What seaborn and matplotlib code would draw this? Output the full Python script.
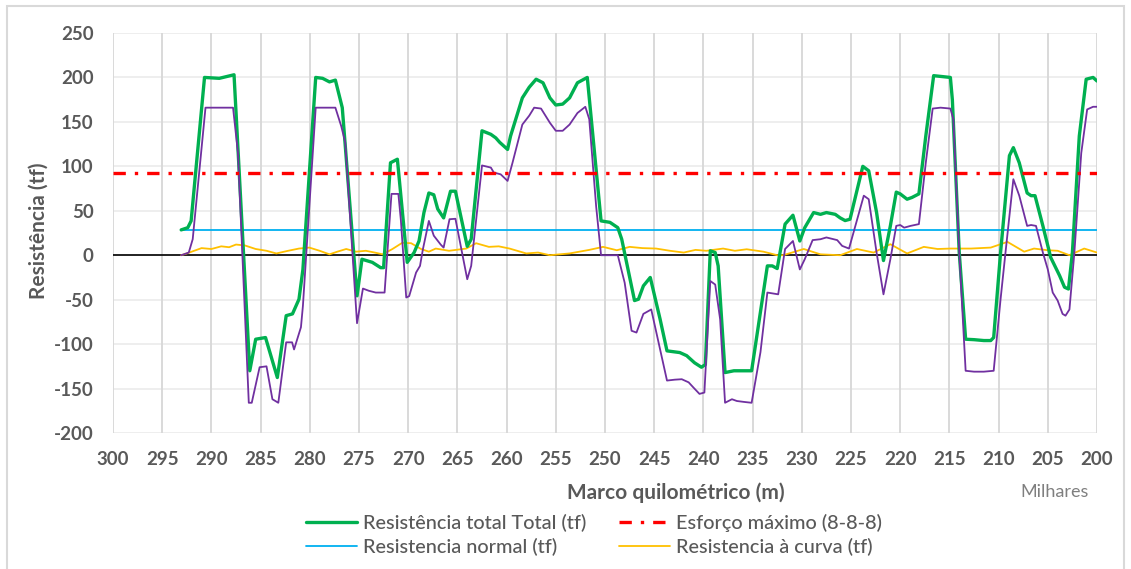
import numpy as np
import pandas as pd
import matplotlib
matplotlib.use("Agg")
import matplotlib.pyplot as plt
import seaborn as sns
from matplotlib.patches import Rectangle
from matplotlib.lines import Line2D

# ---------------- data (km in thousands of metres) ----------------
km_total = [293.07, 292.4, 292.06, 290.7, 289.2, 287.7, 286.1, 285.5, 284.5, 283.3,
            282.4, 281.76, 281.1, 280.7, 279.4, 278.7, 278.0, 277.4, 276.7, 275.2,
            274.7, 273.65, 272.8, 272.5, 271.8, 271.1, 270.1, 269.4, 268.9, 268.4,
            267.9, 267.4, 267.0, 266.4, 265.7, 265.2, 264.66, 264.0, 263.6, 262.5,
            261.6, 261.1, 260.7, 259.9, 259.6, 258.4, 257.7, 257.0, 256.3, 255.6,
            255.0, 254.3, 253.6, 252.8, 251.8, 250.4, 249.5, 248.7, 248.3, 247.0,
            246.6, 246.1, 245.4, 244.4, 243.7, 242.4, 241.7, 240.9, 240.2, 239.8,
            239.3, 238.8, 238.5, 237.8, 236.9, 235.1, 233.5, 233.0, 232.5, 231.7,
            230.9, 230.2, 229.7, 228.8, 228.1, 227.5, 226.6, 226.1, 225.6, 225.1,
            223.8, 223.2, 222.4, 221.7, 221.0, 220.4, 220.0, 219.3, 218.8, 218.1,
            217.4, 216.6, 215.7, 214.9, 214.7, 214.0, 213.35, 212.5, 211.5, 210.8,
            210.5, 209.8, 208.9, 208.5, 207.9, 207.1, 206.7, 206.3, 205.5, 204.7,
            203.8, 203.3, 202.9, 202.5, 201.8, 201.1, 200.4, 200.0]
res_total = [28.5, 31, 38.6, 200, 199, 203, -130, -94.5, -92.6, -137.6,
             -68, -66, -49.5, -16, 200, 199, 195, 197, 166, -45.7,
             -4.5, -8, -14, -14, 104, 108, -8, 3, 16, 48,
             70, 68, 52, 42, 72, 72, 44, 10, 18, 140,
             136, 132, 127, 119, 134, 177, 189, 198, 194, 177,
             169, 170, 177, 194, 200, 38.6, 37, 31, 18, -51,
             -49.5, -34.5, -25, -72, -107.6, -109.5, -113, -121, -126, -123,
             5, 3, -12, -132, -130, -130, -12, -12, -15, 35,
             45, 16, 31, 48, 46, 48, 46, 42, 39, 40.5,
             100, 95, 48, -6, 33, 71, 69, 63, 65, 69,
             134, 202, 201, 200, 175, 3, -94.5, -95, -96, -96,
             -92.6, 3, 112, 121, 104, 70, 67, 67, 33, -2.6,
             -23, -36, -38, 3, 134, 198, 200, 196]

km_grade = [293.07, 292.3, 291.9, 290.6, 287.8, 287.3, 286.2, 285.9, 285.1, 284.4,
            283.8, 283.2, 282.4, 281.8, 281.6, 280.9, 280.7, 279.4, 277.4, 276.8,
            276.4, 275.2, 274.6, 274.0, 273.3, 272.4, 271.7, 271.0, 270.75, 270.2,
            269.9, 269.2, 268.8, 268.5, 267.9, 267.4, 266.7, 266.4, 265.8, 265.2,
            264.66, 264.0, 263.6, 262.5, 261.6, 261.3, 260.6, 259.9, 259.4, 258.4,
            257.7, 257.2, 256.5, 255.6, 255.0, 254.3, 253.6, 252.8, 252.0, 251.6,
            250.9, 250.4, 248.7, 248.0, 247.3, 246.8, 246.1, 245.3, 244.4, 243.7,
            242.9, 242.2, 241.5, 241.0, 240.4, 239.9, 239.3, 238.8, 238.3, 237.8,
            237.1, 236.6, 235.9, 235.1, 234.2, 233.5, 232.4, 231.7, 230.9, 230.2,
            229.7, 228.9, 228.1, 227.5, 226.4, 225.9, 225.2, 223.7, 223.2, 222.4,
            221.7, 221.0, 220.4, 220.0, 219.6, 218.95, 218.1, 217.4, 216.7, 215.9,
            214.9, 214.6, 214.0, 213.35, 212.5, 211.5, 210.5, 209.8, 209.3, 208.5,
            207.9, 207.1, 206.7, 206.2, 205.5, 205.0, 204.5, 204.0, 203.5, 203.2,
            202.8, 202.3, 201.6, 201.0, 200.4, 200.0]
res_grade = [0, 3, 18, 166, 166, 115, -166, -166, -126, -125,
             -162, -166, -98, -98, -106, -81, -57, 166, 166, 145,
             127, -76.5, -37.5, -40, -42, -42, 69, 69, 40, -47.6,
             -46, -19.5, -12, 7, 38.6, 22, 12, 8.6, 40.5, 41,
             10.5, -27, -12, 101, 98.6, 93, 91, 83.6, 104, 147,
             157, 166, 165, 149, 140, 140, 147, 160, 167, 153,
             55, 0, 0, -31, -85, -87, -66, -61, -106, -141,
             -140, -139.5, -143, -149, -156, -154.5, -29, -33, -72, -166,
             -162, -164, -165, -166, -109, -42, -44, 7, 16, -16,
             -4.5, 17, 18, 20, 17, 10.5, 7.5, 67, 63, 3,
             -44, -4.5, 33, 34, 31, 33, 35, 104, 165, 166,
             165, 153, 3, -130, -131, -131, -130, -49.5, 3, 85.5,
             67, 33, 34, 33, 3, -16, -42, -51, -66, -68,
             -61, 3, 115, 164, 167, 167]

km_curve = [293.07, 292.5, 291.0, 290.0, 289.0, 288.2, 287.5, 286.6, 285.5, 284.4,
            283.4, 282.2, 281.1, 280.05, 279.0, 278.0, 277.2, 276.3, 275.3, 274.3,
            273.4, 272.6, 271.6, 270.6, 269.7, 268.7, 267.9, 267.2, 265.85, 264.1,
            263.1, 261.8, 260.8, 259.7, 258.0, 256.8, 255.6, 253.6, 252.6, 251.6,
            250.2, 248.8, 247.5, 246.2, 244.8, 243.4, 242.0, 240.8, 239.7, 238.0,
            236.8, 235.6, 233.9, 232.5, 231.9, 229.8, 228.1, 226.1, 224.4, 222.7,
            221.0, 219.3, 217.6, 216.2, 214.9, 212.8, 210.8, 209.1, 207.4, 206.4,
            205.0, 204.0, 202.8, 201.3, 200.0]
res_curve = [0, 2, 8, 7, 10, 9, 12, 11, 7, 5,
             2, 5, 7.5, 8.6, 5, 1, 4, 7, 4, 5,
             3, 1, 7, 14, 13.5, 7, 4, 7.5, 5, 7.5,
             13.5, 9.4, 10, 7.5, 2, 3, 0, 2, 4, 6,
             9.4, 5.6, 9.4, 8, 7.5, 5, 3, 6, 5, 7.5,
             5, 6.7, 4, 0, 0, 7, 1, 0, 7, 3,
             12.4, 2, 9.4, 7, 7.5, 7.5, 8.6, 15, 4, 7.5,
             5.6, 5, 0, 7.5, 3]

km_normal = [293.07, 200.0]
res_normal = [28, 28]

km_max = [300.0, 200.0]
res_max = [92, 92]

y_ticks = [-200, -150, -100, -50, 0, 50, 100, 150, 200, 250]
x_ticks = list(range(300, 195, -5))

labels = {
    "total": "Resistência total Total (tf)",
    "max": "Esforço máximo (8-8-8)",
    "normal": "Resistencia normal (tf)",
    "curve": "Resistencia à curva (tf)",
}

# ---------------- style ----------------
sns.set_theme(style="white")
plt.rcParams["font.family"] = ["Lato", "DejaVu Sans"]
TXT = "#595959"

W, H = 1131, 569
fig = plt.figure(figsize=(W / 100, H / 100), dpi=100)
ax = fig.add_axes([113 / W, 1 - 433 / H, (1097 - 113) / W, (433 - 33) / H])

# chart border
fig.patches.append(Rectangle((7 / W, -0.05), (1124 - 7) / W, 1 - 6 / H + 0.05,
                             transform=fig.transFigure, fill=False,
                             edgecolor="#d9d9d9", lw=1.5, zorder=0))

# gridlines
for v in y_ticks:
    ax.axhline(v, color="#eeeeee", lw=1.4, zorder=0)
for v in x_ticks:
    ax.axvline(v, color="#d9d9d9", lw=1.4, zorder=0)
ax.axhline(0, color="black", lw=1.2, zorder=1)

# series
sns.lineplot(x=km_total, y=res_total, sort=False, estimator=None, color="#00B050",
             lw=2.4, ax=ax, zorder=3)
sns.lineplot(x=km_grade, y=res_grade, sort=False, estimator=None, color="#7030A0",
             lw=1.3, ax=ax, zorder=4)
sns.lineplot(x=km_normal, y=res_normal, sort=False, estimator=None, color="#00B0F0",
             lw=1.3, ax=ax, zorder=2)
sns.lineplot(x=km_curve, y=res_curve, sort=False, estimator=None, color="#FFC000",
             lw=1.3, ax=ax, zorder=2)
sns.lineplot(x=km_max, y=res_max, sort=False, estimator=None, color="#FF0000",
             lw=2.4, ax=ax, zorder=5)
red_line = ax.get_lines()[-1]
red_line.set_dashes([3.7, 2.7, 1.0, 2.7])
red_line.set_dash_capstyle("butt")

ax.set_xlim(300, 200)
ax.set_ylim(-200, 250)
ax.set_xticks(x_ticks)
ax.set_yticks(y_ticks)
ax.set_xticklabels([str(v) for v in x_ticks])
ax.set_yticklabels([str(v) for v in y_ticks])
ax.tick_params(axis="both", length=0, labelsize=13.5, labelcolor=TXT)
ax.tick_params(axis="y", pad=14)
ax.tick_params(axis="x", pad=13)
for lab in ax.get_xticklabels() + ax.get_yticklabels():
    lab.set_fontweight("bold")
for s in ax.spines.values():
    s.set_visible(False)
ax.set_xlabel("")
ax.set_ylabel("")

fig.text(39 / W, 1 - 231 / H, "Resistência (tf)", rotation=90, ha="center", va="center",
         fontsize=15, fontweight="bold", color=TXT)
fig.text(676 / W, 1 - 493 / H, "Marco quilométrico (m)", ha="center", va="center",
         fontsize=15, fontweight="bold", color=TXT)
fig.text(1055 / W, 1 - 492 / H, "Milhares", ha="center", va="center",
         fontsize=13, color="#7f7f7f")

handles = [
    Line2D([], [], color="#00B050", lw=2.4),
    Line2D([], [], color="#00B0F0", lw=1.3),
    Line2D([], [], color="#FF0000", lw=2.4, dashes=[3.7, 2.7, 1.0, 2.7]),
    Line2D([], [], color="#FFC000", lw=1.3),
]
leg_labels = [labels["total"], labels["normal"], labels["max"], labels["curve"]]
leg = fig.legend(handles, leg_labels, loc="center", bbox_to_anchor=(594 / W, 1 - 535 / H),
                 ncol=2, frameon=False, fontsize=14.3, handlelength=2.6,
                 columnspacing=1.6, handletextpad=0.3, labelspacing=0.28,
                 borderpad=0.1)
for t in leg.get_texts():
    t.set_color(TXT)
    t.set_fontweight("medium")

fig.savefig("out.png", dpi=100)
